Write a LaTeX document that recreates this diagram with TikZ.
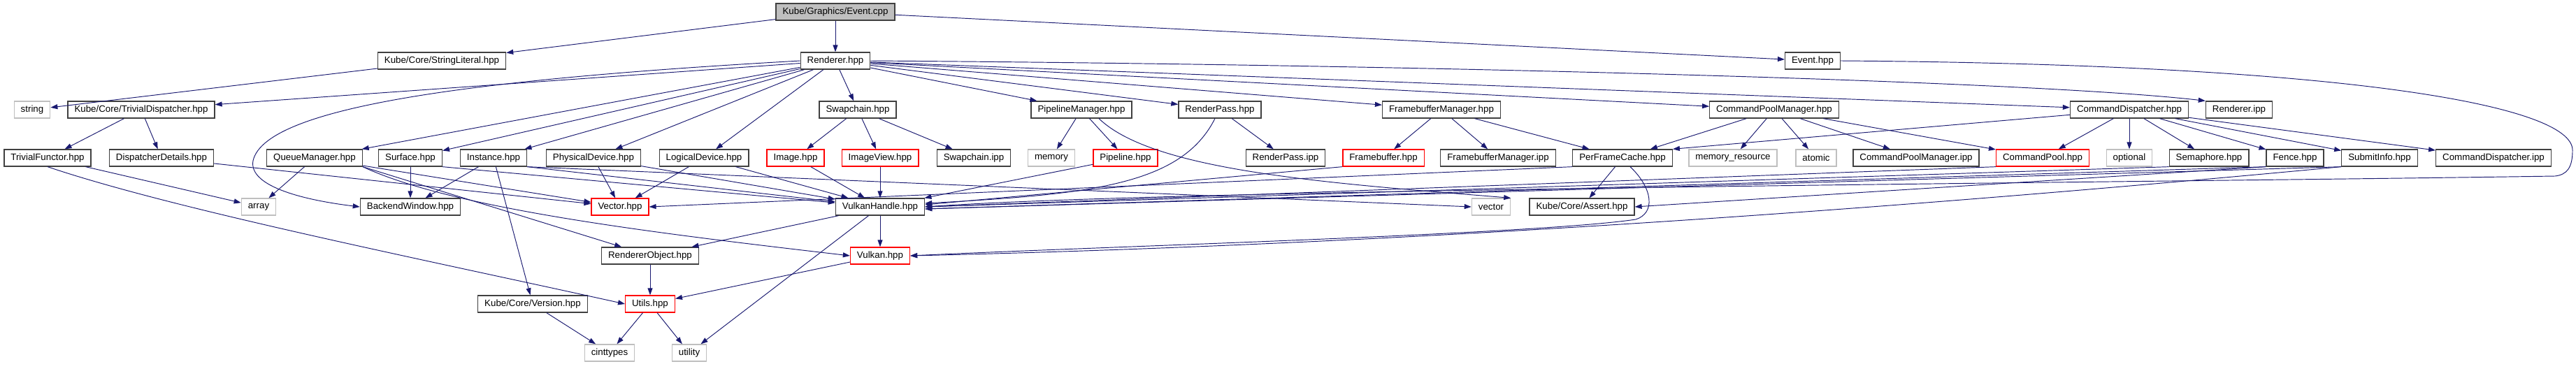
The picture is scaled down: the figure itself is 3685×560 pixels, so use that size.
\documentclass[tikz,border=0pt]{standalone}
\usepackage{fontspec}
\setmainfont{Liberation Sans}
\usepackage{tikz}
\usetikzlibrary{
  arrows.meta,
  positioning
}
\definecolor{dgEdge}{HTML}{191970}
\definecolor{dgBorder}{HTML}{404040}
\definecolor{dgRed}{HTML}{FF0000}
\definecolor{dgSys}{HTML}{BFBFBF}
\definecolor{dgRoot}{HTML}{BFBFBF}
\tikzset{
  hdr/.style={
    draw=dgBorder, line width=1.3pt, minimum height=24pt,
    inner xsep=9.5pt, inner ysep=0pt, font=\fontsize{13.3}{16}\selectfont
  },
  hdrroot/.style={hdr, fill=dgRoot},
  hdrred/.style={hdr, draw=dgRed},
  hdrsys/.style={hdr, draw=dgSys},
  incl/.style={-{Triangle[length=10pt, width=7pt]}, line width=0.95pt, dgEdge}
}

\begin{document}
\begin{tikzpicture}[x=1pt, y=-1pt]
  \useasboundingbox (0,0) rectangle (3685,560);
  % file and first level
  \node[hdrroot] (evcpp) at (1195,17) {Kube/Graphics/Event.cpp};
  \node[hdr] (strlit) at (632,87) {Kube/Core/StringLiteral.hpp};
  \node[hdr] (renderer) at (1195,87) {Renderer.hpp};
  \node[hdr] (evhpp) at (2593,87) {Event.hpp};
  % second level
  \node[hdrsys] (str) at (46,157) {string};
  \node[hdr] (trivdisp) at (202,157) {Kube/Core/TrivialDispatcher.hpp};
  \node[hdr] (swapchain) at (1227,157) {Swapchain.hpp};
  \node[hdr] (pipemgr) at (1547,157) {PipelineManager.hpp};
  \node[hdr] (renderpass) at (1745,157) {RenderPass.hpp};
  \node[hdr] (fbmgr) at (2062,157) {FramebufferManager.hpp};
  \node[hdr] (cpmgr) at (2538,157) {CommandPoolManager.hpp};
  \node[hdr] (cmddisp) at (3046,157) {CommandDispatcher.hpp};
  \node[hdr] (rendipp) at (3203,157) {Renderer.ipp};
  % third level
  \node[hdr] (trivfunc) at (68,226) {TrivialFunctor.hpp};
  \node[hdr] (dispdet) at (231,226) {DispatcherDetails.hpp};
  \node[hdr] (queuemgr) at (450,226) {QueueManager.hpp};
  \node[hdr] (surface) at (587,226) {Surface.hpp};
  \node[hdr] (instance) at (706,226) {Instance.hpp};
  \node[hdr] (physdev) at (849,226) {PhysicalDevice.hpp};
  \node[hdr] (logdev) at (1007,226) {LogicalDevice.hpp};
  \node[hdrred] (image) at (1138,226) {Image.hpp};
  \node[hdrred] (imageview) at (1259,226) {ImageView.hpp};
  \node[hdr] (swapipp) at (1393,226) {Swapchain.ipp};
  \node[hdrsys] (memory) at (1504,226) {memory};
  \node[hdrred] (pipeline) at (1610,226) {Pipeline.hpp};
  \node[hdr] (rpipp) at (1839,226) {RenderPass.ipp};
  \node[hdrred] (framebuffer) at (1979,226) {Framebuffer.hpp};
  \node[hdr] (fbmgripp) at (2143,226) {FramebufferManager.ipp};
  \node[hdr] (perframe) at (2321,226) {PerFrameCache.hpp};
  \node[hdrsys] (memres) at (2479,226) {memory\_resource};
  \node[hdrsys] (atomic) at (2598,226) {atomic};
  \node[hdr] (cpmgripp) at (2741,226) {CommandPoolManager.ipp};
  \node[hdrred] (cmdpool) at (2922,226) {CommandPool.hpp};
  \node[hdrsys] (optional) at (3046,226) {optional};
  \node[hdr] (semaphore) at (3160,226) {Semaphore.hpp};
  \node[hdr] (fence) at (3283,226) {Fence.hpp};
  \node[hdr] (submit) at (3404,226) {SubmitInfo.hpp};
  \node[hdr] (cdipp) at (3567,226) {CommandDispatcher.ipp};
  % fourth level
  \node[hdrsys] (array) at (370,296) {array};
  \node[hdr] (backend) at (587,296) {BackendWindow.hpp};
  \node[hdrred] (vectorh) at (887,296) {Vector.hpp};
  \node[hdr] (vkhandle) at (1259,296) {VulkanHandle.hpp};
  \node[hdrsys] (stdvector) at (2133,296) {vector};
  \node[hdr] (assert) at (2263,296) {Kube/Core/Assert.hpp};
  % bottom levels
  \node[hdr] (rendobj) at (930,366) {RendererObject.hpp};
  \node[hdrred] (vulkan) at (1259,366) {Vulkan.hpp};
  \node[hdr] (version) at (762,435) {Kube/Core/Version.hpp};
  \node[hdrred] (utils) at (930,435) {Utils.hpp};
  \node[hdrsys] (cinttypes) at (872,505) {cinttypes};
  \node[hdrsys] (utility) at (986,505) {utility};

  % includes of Event.cpp
  \draw[incl] (evcpp) -- (strlit);
  \draw[incl] (evcpp) -- (renderer);
  \draw[incl] (evcpp) -- (evhpp);
  \draw[incl] (strlit) -- (str);
  % includes of Renderer.hpp
  \draw[incl] (renderer) -- (trivdisp);
  \draw[incl] (renderer.west) .. controls (700,112) and (380,150) .. (362,230)
    .. controls (355,268) and (440,287) .. (backend.west);
  \draw[incl] (renderer) -- (queuemgr);
  \draw[incl] (renderer) -- (surface);
  \draw[incl] (renderer) -- (instance);
  \draw[incl] (renderer) -- (physdev);
  \draw[incl] (renderer) -- (logdev);
  \draw[incl] (renderer) -- (swapchain);
  \draw[incl] (renderer) -- (pipemgr);
  \draw[incl] (renderer) -- (renderpass);
  \draw[incl] (renderer) -- (fbmgr);
  \draw[incl] (renderer) -- (cpmgr);
  \draw[incl] (renderer) -- (cmddisp);
  \draw[incl] (renderer.east) .. controls (2000,92) and (2900,115) .. (rendipp.north west);
  % left part
  \draw[incl] (trivdisp) -- (trivfunc);
  \draw[incl] (trivdisp) -- (dispdet);
  \draw[incl] (trivfunc) -- (array);
  \draw[incl] (trivfunc.south) .. controls (250,300) and (600,370) .. (utils.west);
  \draw[incl] (dispdet) -- (vectorh);
  \draw[incl] (queuemgr) -- (array);
  \draw[incl] (queuemgr) -- (vectorh);
  \draw[incl] (queuemgr.south east) -- (rendobj);
  \draw[incl] (queuemgr.south east) .. controls (650,300) and (950,335) .. (vulkan.west);
  \draw[incl] (surface) -- (backend);
  \draw[incl] (surface.south east) -- (vkhandle);
  \draw[incl] (instance) -- (backend);
  \draw[incl] (instance) -- (version);
  \draw[incl] (instance.south east) -- (vkhandle);
  \draw[incl] (instance.south east) -- (stdvector.west);
  \draw[incl] (physdev) -- (vectorh);
  \draw[incl] (physdev) -- (vkhandle);
  \draw[incl] (logdev) -- (vectorh);
  \draw[incl] (logdev) -- (vkhandle);
  % swapchain, pipeline, render pass
  \draw[incl] (swapchain) -- (image);
  \draw[incl] (swapchain) -- (imageview);
  \draw[incl] (swapchain) -- (swapipp);
  \draw[incl] (image) -- (vkhandle);
  \draw[incl] (imageview) -- (vkhandle);
  \draw[incl] (pipemgr) -- (memory);
  \draw[incl] (pipemgr) -- (pipeline);
  \draw[incl] ([xshift=25pt]pipemgr.south) .. controls (1650,245) and (1900,262) .. (stdvector.north east);
  \draw[incl] (pipeline) -- (vkhandle);
  \draw[incl] (renderpass) -- (rpipp);
  \draw[incl] ([xshift=-7pt]renderpass.south) .. controls (1690,265) and (1560,278) .. ([yshift=5pt]vkhandle.east);
  % framebuffers
  \draw[incl] (fbmgr) -- (framebuffer);
  \draw[incl] (fbmgr) -- (fbmgripp);
  \draw[incl] (fbmgr) -- (perframe);
  \draw[incl] (framebuffer.south west) -- ([yshift=3pt]vkhandle.east);
  \draw[incl] (perframe.south west) -- (vectorh.east);
  \draw[incl] (perframe) -- (assert);
  \draw[incl] ([xshift=11pt]perframe.south) .. controls (2365,270) and (2368,305) .. (2340,314)
    .. controls (2200,335) and (1600,352) .. (vulkan.east);
  % command pools and dispatcher
  \draw[incl] (cpmgr) -- (perframe);
  \draw[incl] (cpmgr) -- (memres);
  \draw[incl] (cpmgr) -- (atomic);
  \draw[incl] (cpmgr) -- (cpmgripp);
  \draw[incl] (cpmgr) -- (cmdpool);
  \draw[incl] (cmddisp) -- (perframe.north east);
  \draw[incl] (cmddisp) -- (cmdpool);
  \draw[incl] (cmddisp) -- (optional);
  \draw[incl] (cmddisp) -- (semaphore);
  \draw[incl] (cmddisp) -- (fence);
  \draw[incl] (cmddisp) -- (submit);
  \draw[incl] (cmddisp) -- (cdipp);
  \draw[incl] (cmdpool.south west) -- (vkhandle.east);
  \draw[incl] (semaphore.south west) -- (vkhandle.east);
  \draw[incl] (fence.south west) -- ([yshift=-3pt]vkhandle.east);
  \draw[incl] (fence.south west) -- (assert.east);
  \draw[incl] (submit.south west) -- ([yshift=-3pt]vkhandle.east);
  \draw[incl] (submit.south west) .. controls (2700,300) and (2000,350) .. (vulkan.east);
  \draw[incl] (evhpp.east) .. controls (3350,92) and (3680,150) .. (3680,215)
    .. controls (3680,240) and (3672,250) .. (3655,252)
    .. controls (3000,262) and (1700,270) .. (vkhandle.east);
  % lower part
  \draw[incl] (vkhandle) -- (rendobj);
  \draw[incl] (vkhandle) -- (vulkan);
  \draw[incl] (vkhandle) -- (utility);
  \draw[incl] (rendobj) -- (utils);
  \draw[incl] (vulkan) -- (utils);
  \draw[incl] (version) -- (cinttypes);
  \draw[incl] (utils) -- (cinttypes);
  \draw[incl] (utils) -- (utility);
\end{tikzpicture}
\end{document}
